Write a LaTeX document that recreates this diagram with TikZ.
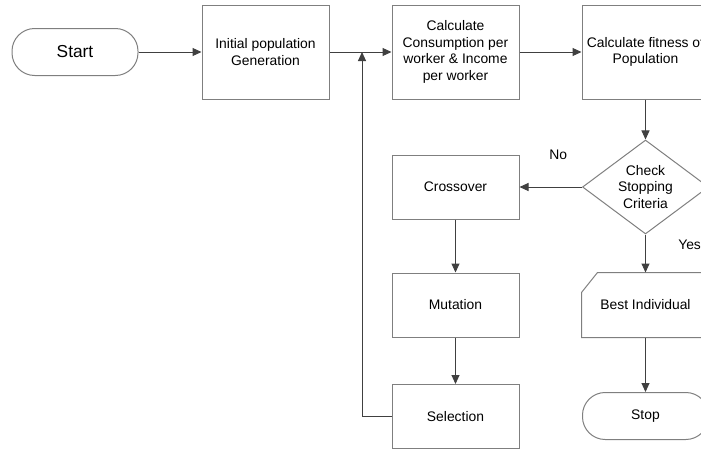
\documentclass[tikz,border=0pt]{standalone}
\usepackage{fontspec}
\setmainfont{Liberation Sans}
\usepackage{xcolor}
\usepackage{tikz}
\usetikzlibrary{shapes,arrows.meta,calc}
\usetikzlibrary{positioning}

\definecolor{boxgray}{HTML}{7F7F7F}
\definecolor{linegray}{HTML}{404040}

\begin{document}
\begin{tikzpicture}[x=0.75pt,y=-0.75pt,
  every node/.style={font=\fontsize{10.4}{12.6}\selectfont, align=center},
  proc/.style={draw=boxgray, line width=0.75pt, minimum width=95.25pt, minimum height=70.5pt, inner sep=0pt},
  lowproc/.style={proc, minimum height=48pt},
  term/.style={draw=boxgray, line width=0.75pt, rounded corners=17pt, minimum width=94.5pt, minimum height=35.25pt, inner sep=0pt},
  decide/.style={draw=boxgray, line width=0.75pt, shape=diamond, aspect=1.34, minimum width=94.5pt, minimum height=70.5pt, inner sep=0pt},
  flow/.style={draw=linegray, line width=0.75pt, -{Triangle[length=6.75pt,width=6pt]}}]
\useasboundingbox (0,0) rectangle (701,450);
\clip (0,0) rectangle (701,450);
% top row
\node[term, font=\fontsize{13}{15}\selectfont] (start) at (75,52) {Start};
\node[proc] (init) at (265.5,52) {Initial population\\Generation};
\node[proc] (calc) at (455.5,52) {Calculate\\Consumption per\\worker \& Income\\per worker};
\node[proc] (fitness) at (645.5,52) {Calculate fitness of\\Population};
% loop and decision
\node[decide] (check) at (645.5,187) {Check\\Stopping\\Criteria};
\node[lowproc] (cross) at (455.5,187) {Crossover};
\node[lowproc] (mutate) at (455.5,305) {Mutation};
\node[lowproc] (select) at (455.5,416.5) {Selection};
\node[lowproc, draw=none] (best) at (645.5,305) {Best Individual};
\draw[boxgray, line width=0.75pt] ($(best.north west)+(16,0)$) -- (best.north east) -- (best.south east) -- (best.south west) -- ($(best.north west)+(0,20)$) -- cycle;
\node[term] (stop) at (645.5,416) {Stop};
\coordinate (merge) at (362,52);
% connectors
\draw[flow] (start) -- (init);
\draw[flow] (init) -- (calc);
\draw[flow] (calc) -- (fitness);
\draw[flow] (fitness) -- (check);
\draw[flow] (check) -- node[pos=0.38, above=17pt] {No} (cross);
\draw[flow] (cross) -- (mutate);
\draw[flow] (mutate) -- (select);
\draw[flow] (select.west) -- (select.west -| merge) -- (merge);
\draw[flow] (check) -- (best);
\draw[flow] (best) -- (stop);
\node[anchor=west, inner sep=0pt] (yes) at (678,245) {Yes};
\end{tikzpicture}
\end{document}
